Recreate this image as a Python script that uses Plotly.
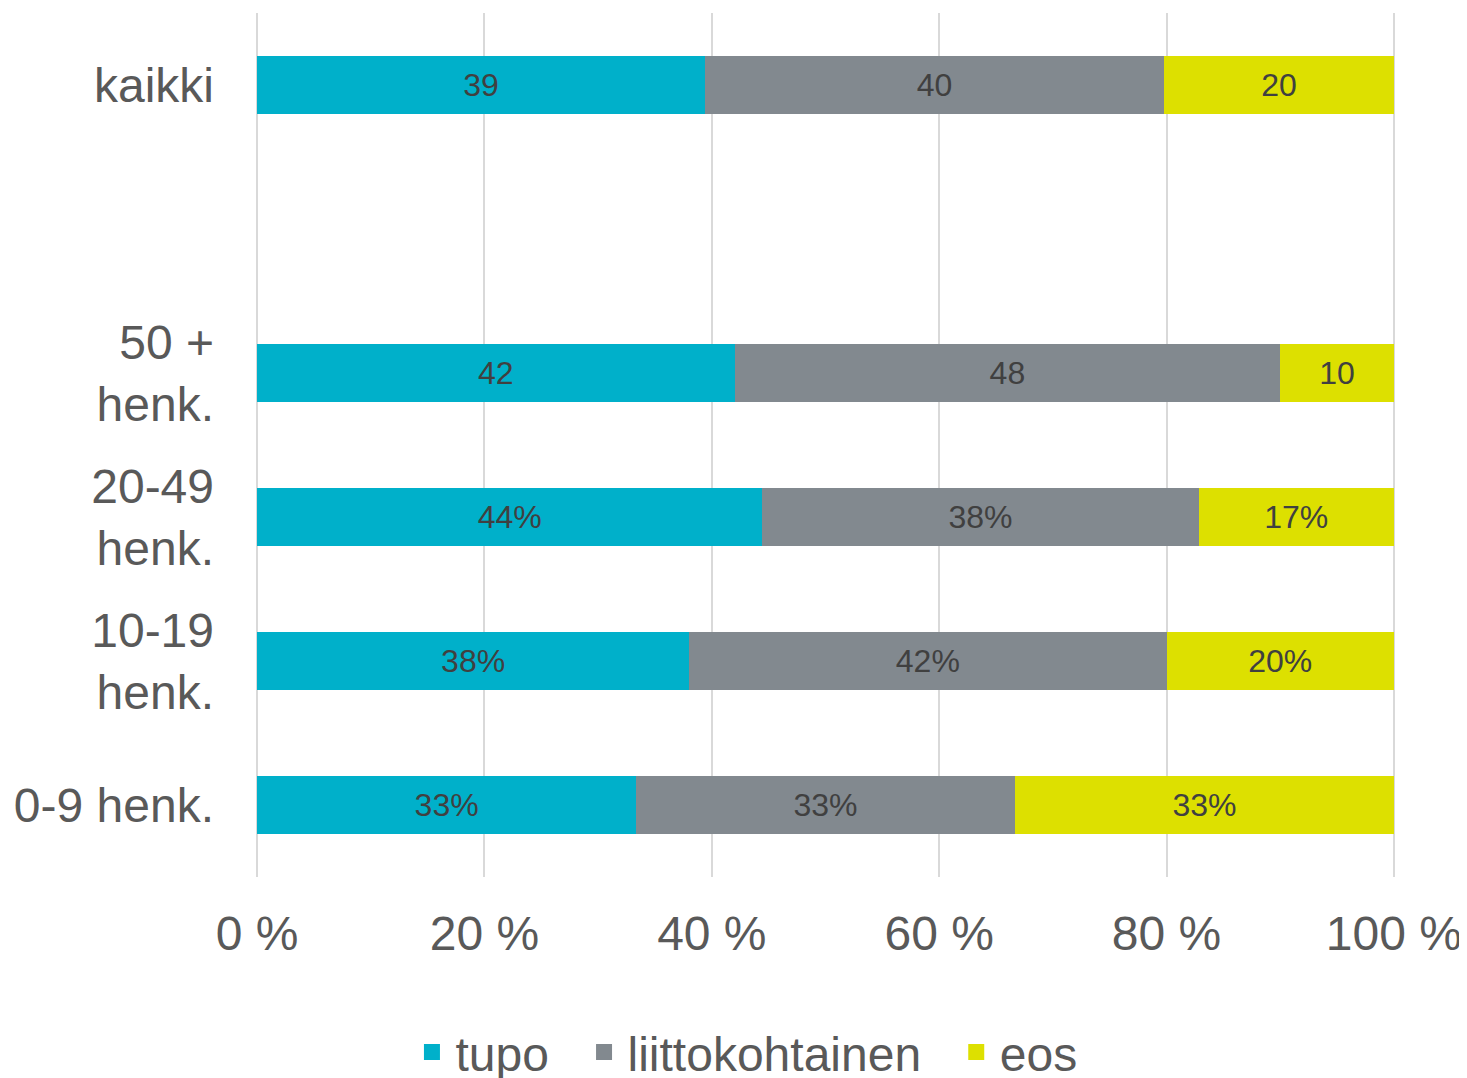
import plotly.graph_objects as go

categories = ["0-9 henk.", "10-19<br>henk.", "20-49<br>henk.", "50 +<br>henk.", " ", "kaikki"]
tupo = [33, 38, 44, 42, None, 39]
liittokohtainen = [33, 42, 38, 48, None, 40]
eos = [33, 20, 17, 10, None, 20]
tupo_text = ["33%", "38%", "44%", "42", "", "39"]
liitto_text = ["33%", "42%", "38%", "48", "", "40"]
eos_text = ["33%", "20%", "17%", "10", "", "20"]
x_ticks = [0, 20, 40, 60, 80, 100]
x_ticktext = ["0 %", "20 %", "40 %", "60 %", "80 %", "100 %"]

series = [
    ("tupo", tupo, tupo_text, "#00B0CA"),
    ("liittokohtainen", liittokohtainen, liitto_text, "#82898F"),
    ("eos", eos, eos_text, "#DDE000"),
]

FONT = "Liberation Sans, Arial, sans-serif"
fig = go.Figure()
for name, vals, txt, col in series:
    fig.add_trace(go.Bar(
        y=categories, x=vals, name=name, orientation="h",
        marker=dict(color=col, line=dict(width=0)),
        text=txt, textposition="inside", insidetextanchor="middle",
        textangle=0, constraintext="none",
        textfont=dict(family=FONT, size=32, color="#404040"),
        hoverinfo="skip", showlegend=False,
    ))
# legend entries (square swatches)
for name, vals, txt, col in series:
    fig.add_trace(go.Scatter(
        x=[None], y=[None], mode="markers", name=name + "\u00a0\u00a0",
        marker=dict(symbol="square", size=24, color=col),
        hoverinfo="skip", showlegend=True,
    ))

# page body has an 8px margin, so the figure is sized/offset to compensate
fig.update_layout(
    barmode="stack", barnorm="percent", bargap=0.6,
    width=1459, height=1070,
    margin=dict(l=248, r=72, t=5, b=201, autoexpand=False),
    paper_bgcolor="white", plot_bgcolor="white",
    font=dict(family=FONT, color="#595959", size=48),
    showlegend=True,
    legend=dict(orientation="h", xref="container", yref="container",
                x=0.5147, xanchor="center", y=0.024, yanchor="middle",
                font=dict(size=48, color="#595959"), traceorder="normal",
                itemsizing="trace", itemwidth=37, tracegroupgap=0),
)
fig.update_xaxes(range=[-0.1, 100.1], tickvals=x_ticks, ticktext=x_ticktext,
                 showgrid=True, gridcolor="#D9D9D9", gridwidth=2,
                 zeroline=False, showline=False, ticks="", automargin=False,
                 ticklabeloverflow="allow",
                 tickfont=dict(size=48, color="#595959"), ticklabelstandoff=24)
fig.update_yaxes(type="category", categoryorder="array", categoryarray=categories,
                 range=[-0.5, 5.5], showgrid=False, zeroline=False, showline=False,
                 ticks="", automargin=False,
                 tickfont=dict(size=48, color="#595959"), ticklabelstandoff=41)

fig.write_html("out.html")
